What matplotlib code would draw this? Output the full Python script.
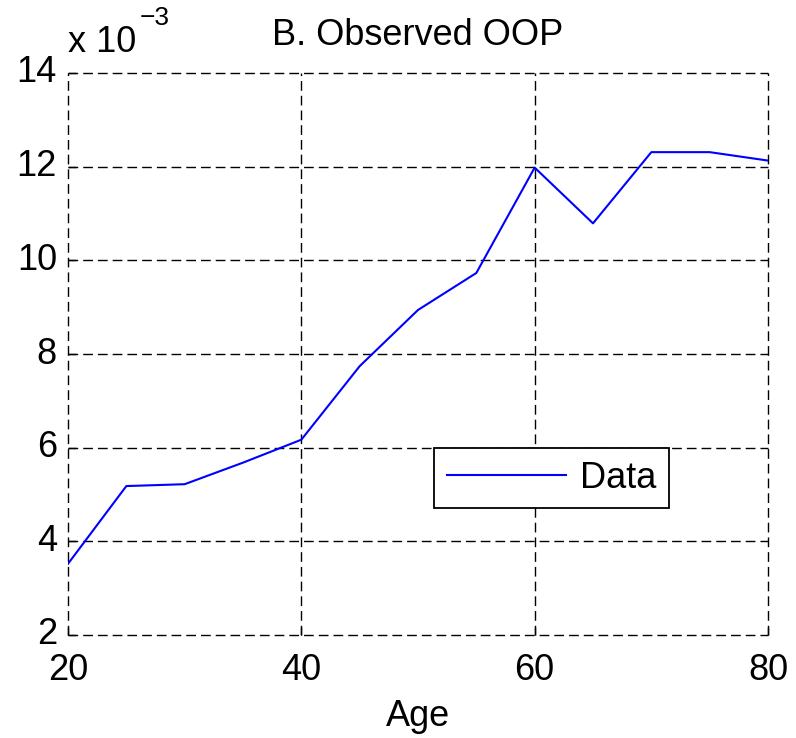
import matplotlib.pyplot as plt
import matplotlib.transforms as mtransforms

# Observed OOP by age (x 10^-3)
ages = [20, 25, 30, 35, 40, 45, 50, 55, 60, 65, 70, 75, 80]
oop = [3.52, 5.18, 5.22, 5.68, 6.17, 7.74, 8.94, 9.73, 11.98, 10.79, 12.31, 12.31, 12.13]

x_ticks = [20, 40, 60, 80]
y_ticks = [2, 4, 6, 8, 10, 12, 14]

plt.rcParams['font.family'] = ['Liberation Sans', 'DejaVu Sans']

fig = plt.figure(figsize=(7.96, 7.38), dpi=100)
ax = fig.add_axes([68 / 796, 103 / 738, 700 / 796, 562 / 738])

ax.plot(ages, oop, color='#0000ff', lw=1.5, label='Data', zorder=3)

ax.set_xlim(20, 80)
ax.set_ylim(2, 14)
ax.set_xticks(x_ticks)
ax.set_yticks(y_ticks)
ax.tick_params(direction='in', length=6, width=1.0, labelsize=26,
               top=False, right=False)
ax.tick_params(axis='x', pad=13)
ax.tick_params(axis='y', pad=8)

# y labels sit a little above their tick in the original
shift = mtransforms.ScaledTranslation(0, 4 / 100, fig.dpi_scale_trans)
for lab in ax.get_yticklabels():
    lab.set_transform(lab.get_transform() + shift)

for s in ax.spines.values():
    s.set_visible(False)

# grid drawn at every tick including the edges (MATLAB style, box off)
for xv in x_ticks:
    ax.axvline(xv, color='black', lw=1.0, ls=(0, (7, 3.6)), clip_on=False, zorder=1)
for yv in y_ticks:
    ax.axhline(yv, color='black', lw=1.0, ls=(0, (7, 3.6)), clip_on=False, zorder=1)

ax.set_xlabel('Age', fontsize=26, labelpad=8)
ax.set_title('B. Observed OOP', fontsize=26, pad=20)
ax.text(0.0, 1.037, 'x 10', transform=ax.transAxes,
        fontsize=26, ha='left', va='baseline')
ax.text(0.103, 1.085, '\u22123', transform=ax.transAxes,
        fontsize=19, ha='left', va='baseline')

leg = ax.legend(loc='center', bbox_to_anchor=(0.691, 0.279), fontsize=26,
                handlelength=3.3, handletextpad=0.4, fancybox=False, framealpha=1,
                edgecolor='black', borderpad=0.35, borderaxespad=0)
leg.get_frame().set_linewidth(1.3)

fig.savefig('out.png', dpi=100)
